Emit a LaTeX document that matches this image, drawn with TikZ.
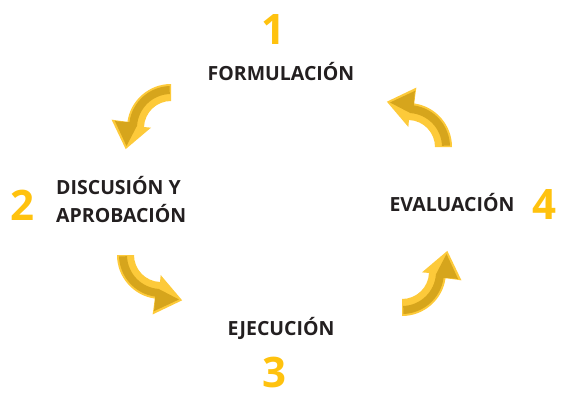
\documentclass[tikz,border=0pt]{standalone}
\usepackage{fontspec}
\setmainfont{Open Sans}
\definecolor{colNum}{RGB}{255,194,14}
\definecolor{colText}{RGB}{35,31,32}
\definecolor{colLight}{RGB}{253,202,58}
\definecolor{colDark}{RGB}{214,165,28}
\tikzset{
  stage/.style={
    font=\bfseries\fontsize{19.5}{28}\selectfont,
    text=colText, inner sep=0pt, align=center
  },
  num/.style={
    font=\bfseries\fontsize{42}{42}\selectfont,
    text=colNum, inner sep=0pt
  },
  arrLight/.style={fill=colLight},
  arrDark/.style={fill=colDark}
}
% curved two-tone arrow, #1 = angle of its tail
\newcommand{\cyclearrow}[1]{%
  \begin{scope}[rotate=#1]
    \fill[arrLight] (0:44) arc[start angle=0, end angle=82, radius=44]
      -- (82:60) -- (115:50) -- (89:20) -- (88:27)
      arc[start angle=88, end angle=0, radius=27] -- cycle;
    \fill[arrDark] (2:42) arc[start angle=2, end angle=82, radius=42]
      -- (83:56.5) -- (112:48) -- (86:34)
      arc[start angle=86, end angle=2, radius=34] -- cycle;
  \end{scope}}

\begin{document}
\begin{tikzpicture}[x=1pt, y=1pt]
  \useasboundingbox (0,0) rectangle (570,400);

  % stages
  \node[stage] (formul) at (281,328) {FORMULACIÓN};
  \node[stage, anchor=west, align=left] (discus) at (56,200) {DISCUSIÓN Y\\APROBACIÓN};
  \node[stage] (ejecu) at (281,72) {EJECUCIÓN};
  \node[stage] (evalu) at (452,197) {EVALUACIÓN};

  % numbers
  \node[num] (n1) at (273,370) {1};
  \node[num] (n2) at (22,195) {2};
  \node[num] (n3) at (274,28) {3};
  \node[num] (n4) at (544,195) {4};

  % arrows of the cycle
  \coordinate (aTL) at (171,272);
  \coordinate (aBL) at (161,145);
  \coordinate (aBR) at (402,128);
  \coordinate (aTR) at (408,253);
  \begin{scope}[shift={(aTL)}] \cyclearrow{90} \end{scope}
  \begin{scope}[shift={(aBL)}] \cyclearrow{180} \end{scope}
  \begin{scope}[shift={(aBR)}] \cyclearrow{270} \end{scope}
  \begin{scope}[shift={(aTR)}] \cyclearrow{0} \end{scope}
\end{tikzpicture}
\end{document}
